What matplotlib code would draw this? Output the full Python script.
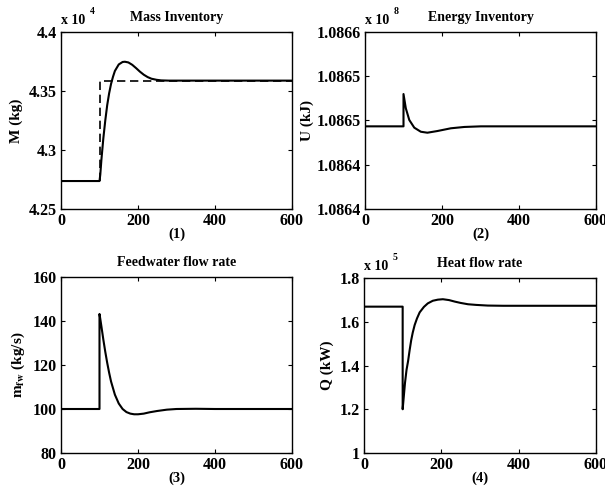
import matplotlib
matplotlib.use("Agg")
import matplotlib.pyplot as plt
import numpy as np

plt.rcParams["font.family"] = ["Liberation Serif", "DejaVu Serif"]
plt.rcParams["font.weight"] = "bold"
plt.rcParams["mathtext.fontset"] = "stix"

# ---- Mass inventory (x 1e4 kg) ----
mass_t = [0, 100, 102, 105, 110, 115, 120, 125, 130, 135, 140, 150, 160, 166,
          175, 185, 195, 205, 215, 225, 235, 248, 260, 280, 600]
mass_m = [4.2737, 4.2737, 4.279, 4.292, 4.310, 4.325, 4.338, 4.348, 4.356, 4.362,
          4.367, 4.3725, 4.3746, 4.3748, 4.3742, 4.3722, 4.3694, 4.3664, 4.3638,
          4.3618, 4.3604, 4.3595, 4.3590, 4.3588, 4.3588]
mass_set_t = [0, 100, 100, 600]
mass_set_m = [4.2737, 4.2737, 4.3588, 4.3588]

# ---- Energy inventory (x 1e8 kJ) ----
energy_t = [0, 100, 100, 106, 115, 128, 145, 162, 188, 223, 258, 301, 600]
energy_u = [1.0864934, 1.0864934, 1.0865299, 1.0865138, 1.0865006, 1.0864919,
            1.0864873, 1.0864862, 1.0864881, 1.0864912, 1.0864927, 1.0864934,
            1.0864934]
energy_ticks = [1.08640, 1.08645, 1.08650, 1.08655, 1.08660]
energy_ticklabels = ["1.0864", "1.0864", "1.0865", "1.0865", "1.0866"]

# ---- Feedwater flow rate (kg/s) ----
fw_t = [0, 100, 100, 102, 105, 110, 115, 120, 125, 130, 140, 150, 160, 170, 180,
        190, 200, 215, 230, 250, 275, 300, 350, 400, 600]
fw_m = [100, 100, 143.2, 141, 137.5, 131.5, 126, 121, 116.5, 112.5, 106.5, 102.5,
        100, 98.6, 97.9, 97.6, 97.6, 97.9, 98.5, 99.1, 99.7, 100.0, 100.1, 100.0, 100]

# ---- Heat flow rate (x 1e5 kW) ----
q_t = [0, 100, 100, 103, 106, 110, 114, 118, 122, 126, 131, 137, 144, 155, 165,
       178, 191, 204, 220, 235, 250, 269, 290, 320, 360, 600]
q_v = [1.669, 1.669, 1.20, 1.26, 1.32, 1.38, 1.42, 1.47, 1.515, 1.55, 1.585, 1.615,
       1.643, 1.668, 1.684, 1.696, 1.701, 1.703, 1.699, 1.692, 1.686, 1.680, 1.677,
       1.674, 1.673, 1.673]

fig = plt.figure(figsize=(6.05, 4.96), dpi=100)
W, H = 605, 496

TICK_FS = 11.5
TITLE_FS = 10
LABEL_FS = 11
NUM_FS = 10.5
EXP_FS = 10


def make_axes(l, r, t, b):
    ax = fig.add_axes([l / W, 1 - b / H, (r - l) / W, (b - t) / H])
    ax.tick_params(direction="in", top=True, right=True, length=3, width=0.8,
                   labelsize=TICK_FS, pad=3)
    for s in ax.spines.values():
        s.set_linewidth(1.0)
    ax.set_xlim(0, 600)
    ax.set_xticks([0, 200, 400, 600])
    return ax


def exponent(ax, p):
    # scale factor written above the top-left corner of the axes
    ax.text(0.0, 1.03, "x 10", transform=ax.transAxes, fontsize=EXP_FS,
            fontweight="bold", ha="left", va="bottom")
    ax.text(0.125, 1.09, str(p), transform=ax.transAxes, fontsize=7,
            fontweight="bold", ha="left", va="bottom")


lw = 1.5

ax1 = make_axes(61, 292, 32, 209)
ax1.plot(mass_t, mass_m, color="black", lw=lw)
ax1.plot(mass_set_t, mass_set_m, color="black", lw=1.2, dashes=(5, 2.8))
ax1.set_ylim(4.25, 4.4)
ax1.set_yticks([4.25, 4.3, 4.35, 4.4])
ax1.set_yticklabels(["4.25", "4.3", "4.35", "4.4"])
ax1.set_title("Mass Inventory", fontsize=TITLE_FS, fontweight="bold", pad=8)
ax1.set_ylabel("M (kg)", fontsize=LABEL_FS, fontweight="bold", labelpad=4)
ax1.set_xlabel("(1)", fontsize=NUM_FS, fontweight="bold", labelpad=-1)
exponent(ax1, 4)

ax2 = make_axes(365, 596, 32, 209)
ax2.plot(energy_t, energy_u, color="black", lw=lw)
ax2.set_ylim(1.08640, 1.08660)
ax2.set_yticks(energy_ticks)
ax2.set_yticklabels(energy_ticklabels)
ax2.set_title("Energy Inventory", fontsize=TITLE_FS, fontweight="bold", pad=8)
ax2.set_ylabel("U (kJ)", fontsize=LABEL_FS, fontweight="bold", labelpad=2)
ax2.set_xlabel("(2)", fontsize=NUM_FS, fontweight="bold", labelpad=-1)
exponent(ax2, 8)

ax3 = make_axes(61, 292, 277, 453)
ax3.plot(fw_t, fw_m, color="black", lw=lw)
ax3.set_ylim(80, 160)
ax3.set_yticks([80, 100, 120, 140, 160])
ax3.set_title("Feedwater flow rate", fontsize=TITLE_FS, fontweight="bold", pad=8)
ax3.set_ylabel(r"$\mathbf{m_{fw}}$ (kg/s)", fontsize=LABEL_FS, fontweight="bold",
               labelpad=4)
ax3.set_xlabel("(3)", fontsize=NUM_FS, fontweight="bold", labelpad=-1)

ax4 = make_axes(364, 596, 278, 453)
ax4.plot(q_t, q_v, color="black", lw=lw)
ax4.set_ylim(1.0, 1.8)
ax4.set_yticks([1.0, 1.2, 1.4, 1.6, 1.8])
ax4.set_yticklabels(["1", "1.2", "1.4", "1.6", "1.8"])
ax4.set_title("Heat flow rate", fontsize=TITLE_FS, fontweight="bold", pad=8)
ax4.set_ylabel("Q (kW)", fontsize=LABEL_FS, fontweight="bold", labelpad=4)
ax4.set_xlabel("(4)", fontsize=NUM_FS, fontweight="bold", labelpad=-1)
exponent(ax4, 5)

for ax in (ax1, ax2, ax3, ax4):
    for lab in ax.get_xticklabels() + ax.get_yticklabels():
        lab.set_fontweight("bold")

fig.savefig("out.png", dpi=100)
